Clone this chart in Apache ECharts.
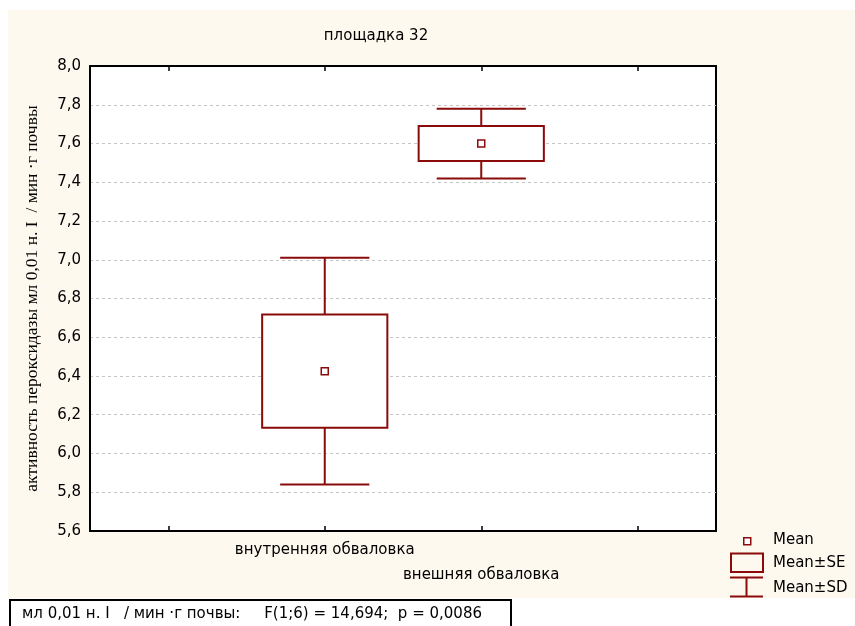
<!DOCTYPE html>
<html><head><meta charset="utf-8">
<script src="https://cdn.jsdelivr.net/npm/echarts@6/dist/echarts.min.js"></script>
<style>
html,body{margin:0;padding:0;background:#fff;}
#bg{position:absolute;left:8px;top:10px;width:847px;height:588px;background:#fef9ef;}
#chart{position:absolute;left:0;top:0;width:855px;height:626px;}
</style></head>
<body><div id="bg"></div><div id="chart"></div>
<script>
const title = 'площадка 32';
const yTitle = 'активность пероксидазы мл 0,01 н. I  / мин ·г почвы';
const categories = ['внутренняя обваловка', 'внешняя обваловка'];
const means = [6.425, 7.600];
const seValues = [0.2925, 0.090];
const sdValues = [0.585, 0.180];
const yTicks = [5.6, 8.0, 0.2]; // min, max, step
const legendNames = ['Mean', 'Mean±SE', 'Mean±SD'];
const footer = 'мл 0,01 н. I   / мин ·г почвы:     F(1;6) = 14,694;  p = 0,0086';

const RED = '#8b0a0a';
const axisCats = [''].concat(categories, ['']);
const data = categories.map((c, i) => [i + 1, means[i], seValues[i], sdValues[i]]);

const chart = echarts.init(document.getElementById('chart'), null, {renderer: 'canvas'});

function renderItem(params, api) {
  const x = api.value(0), m = api.value(1), se = api.value(2), sd = api.value(3);
  const band = api.size([1, 0])[0];
  const cx = api.coord([x, m])[0];
  const ym = api.coord([x, m])[1];
  const ySeT = api.coord([x, m + se])[1], ySeB = api.coord([x, m - se])[1];
  const ySdT = api.coord([x, m + sd])[1], ySdB = api.coord([x, m - sd])[1];
  const bw = band * 0.8, cw = band * 0.57;
  const ls = {stroke: RED, lineWidth: 2, fill: null};
  return {type: 'group', children: [
    {type: 'line', shape: {x1: cx, y1: ySdT, x2: cx, y2: ySeT}, style: ls},
    {type: 'line', shape: {x1: cx, y1: ySeB, x2: cx, y2: ySdB}, style: ls},
    {type: 'line', shape: {x1: cx - cw / 2, y1: ySdT, x2: cx + cw / 2, y2: ySdT}, style: ls},
    {type: 'line', shape: {x1: cx - cw / 2, y1: ySdB, x2: cx + cw / 2, y2: ySdB}, style: ls},
    {type: 'rect', shape: {x: cx - bw / 2, y: ySeT, width: bw, height: ySeB - ySeT}, style: {stroke: RED, lineWidth: 2, fill: '#fff'}},
    {type: 'rect', shape: {x: cx - 3.5, y: ym - 3.5, width: 7, height: 7}, style: {stroke: RED, lineWidth: 1.5, fill: '#fff'}}
  ]};
}

const F = 'DejaVu Sans, Verdana, sans-serif';
const option = {
  backgroundColor: 'transparent',
  animation: false,
  title: {text: title, left: 371, top: 24, textAlign: 'center',
    textStyle: {fontFamily: F, fontSize: 15, fontWeight: 'normal', color: '#000'}},
  grid: {left: 90, top: 66, right: 139, bottom: 95, show: true, backgroundColor: '#fff', borderColor: '#000', borderWidth: 2, z: 0},
  xAxis: [{
    type: 'category', data: axisCats, boundaryGap: true, position: 'bottom', z: 5,
    axisLine: {lineStyle: {color: '#000', width: 2}},
    axisTick: {show: true, inside: true, alignWithLabel: true, length: 5, lineStyle: {color: '#000', width: 1.5},
      interval: 0},
    axisLabel: {interval: 0, margin: 7, lineHeight: 25, fontFamily: F, fontSize: 15, color: '#000',
      formatter: (v, i) => i === 2 ? '\n' + v : v},
    splitLine: {show: false}
  }, {
    type: 'category', data: axisCats, boundaryGap: true, position: 'top', z: 5,
    axisLine: {lineStyle: {color: '#000', width: 2}},
    axisTick: {show: true, inside: true, alignWithLabel: true, length: 5, lineStyle: {color: '#000', width: 1.5}, interval: 0},
    axisLabel: {show: false}
  }],
  yAxis: {
    type: 'value', min: yTicks[0], max: yTicks[1], interval: yTicks[2],
    name: yTitle, nameLocation: 'middle', nameGap: 49, nameRotate: 90,
    nameTextStyle: {fontFamily: 'Liberation Serif, Times New Roman, serif', fontSize: 17.5, color: '#000'},
    axisLine: {show: true, lineStyle: {color: '#000', width: 2}},
    axisTick: {show: false},
    axisLabel: {margin: 9, fontFamily: F, fontSize: 15, color: '#000',
      formatter: v => v.toFixed(1).replace('.', ',')},
    splitLine: {show: true, lineStyle: {color: '#c4c4c4', type: [3, 3], width: 1}}
  },
  series: [{type: 'custom', xAxisIndex: 0, renderItem: renderItem, data: data, z: 5}],
  graphic: [
    {type: 'rect', left: 743, top: 537, shape: {width: 7, height: 7}, style: {stroke: RED, lineWidth: 1.5, fill: '#fff'}},
    {type: 'rect', shape: {x: 731, y: 553.5, width: 32, height: 18.5}, style: {stroke: RED, lineWidth: 2, fill: null}},
    {type: 'line', shape: {x1: 730, y1: 577.5, x2: 763, y2: 577.5}, style: {stroke: RED, lineWidth: 2}},
    {type: 'line', shape: {x1: 730, y1: 596.5, x2: 763, y2: 596.5}, style: {stroke: RED, lineWidth: 2}},
    {type: 'line', shape: {x1: 746.5, y1: 577.5, x2: 746.5, y2: 596.5}, style: {stroke: RED, lineWidth: 2}},
    {type: 'text', x: 773, y: 540, style: {text: legendNames[0], font: '15px ' + F, fill: '#000', textVerticalAlign: 'middle'}},
    {type: 'text', x: 773, y: 563, style: {text: legendNames[1], font: '15px ' + F, fill: '#000', textVerticalAlign: 'middle'}},
    {type: 'text', x: 773, y: 588, style: {text: legendNames[2], font: '15px ' + F, fill: '#000', textVerticalAlign: 'middle'}},
    {type: 'rect', shape: {x: 10, y: 600, width: 501, height: 30}, style: {stroke: '#000', lineWidth: 2, fill: '#fff'}},
    {type: 'text', x: 22, y: 614, style: {text: footer, font: '15px ' + F, fill: '#000', textVerticalAlign: 'middle'}}
  ]
};
chart.setOption(option);
</script></body></html>
